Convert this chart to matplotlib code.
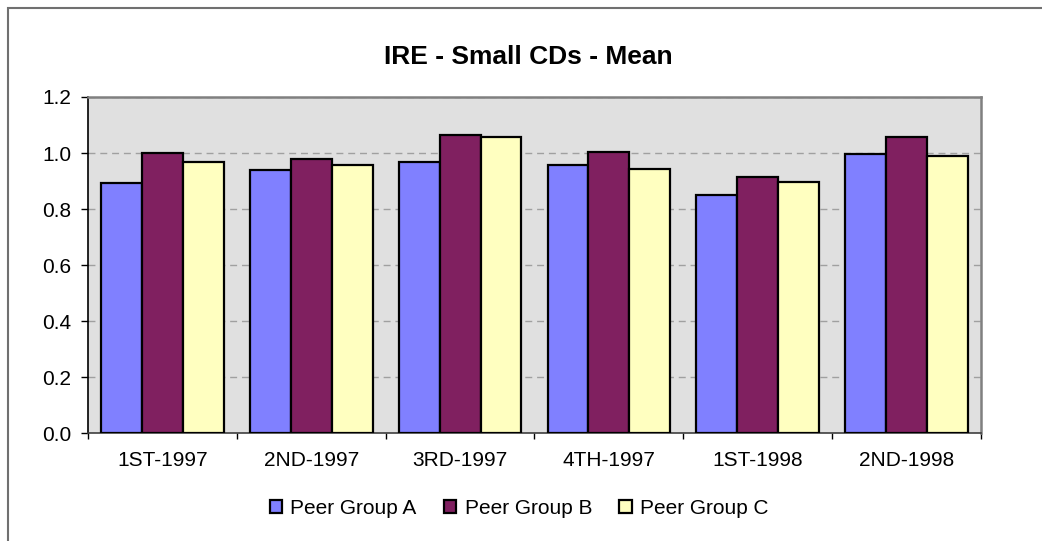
import matplotlib
matplotlib.use("Agg")
import matplotlib.pyplot as plt
import numpy as np
from matplotlib.patches import Rectangle, Patch

plt.rcParams['font.family'] = ['Liberation Sans', 'DejaVu Sans']

categories = ["1ST-1997", "2ND-1997", "3RD-1997", "4TH-1997", "1ST-1998", "2ND-1998"]
series_names = ["Peer Group A", "Peer Group B", "Peer Group C"]
group_a = [0.893, 0.939, 0.969, 0.958, 0.849, 0.995]
group_b = [1.000, 0.979, 1.063, 1.002, 0.914, 1.059]
group_c = [0.969, 0.958, 1.057, 0.943, 0.895, 0.991]
y_ticks = [0.0, 0.2, 0.4, 0.6, 0.8, 1.0, 1.2]

colors = ["#8080FF", "#802060", "#FFFFC0"]

W, H = 1042, 541
fig = plt.figure(figsize=(W / 100, H / 100), dpi=100)
fig.patch.set_facecolor("white")

# outer chart frame
fig.add_artist(Rectangle((8 / W, -0.1), 1.2, (H - 7.5) / H + 0.1,
                         transform=fig.transFigure, fill=False,
                         edgecolor="#707070", linewidth=1.5))

ax = fig.add_axes([88 / W, (H - 433.3) / H, (981 - 88) / W, (433.3 - 97) / H])
ax.set_facecolor("#E0E0E0")

x = np.arange(len(categories))
width = 0.275
for i, (vals, name) in enumerate(zip([group_a, group_b, group_c], series_names)):
    ax.bar(x + (i - 1) * width, vals, width, color=colors[i], edgecolor="black",
           linewidth=1.6, label=name, zorder=3)

ax.set_xlim(-0.5, len(categories) - 0.5)
ax.set_ylim(0, 1.2)
ax.set_yticks(y_ticks)
ax.set_yticklabels([f"{v:.1f}" for v in y_ticks], fontsize=15)
ax.yaxis.grid(True, color="#A0A0A0", linestyle=(0, (5, 3.5)), linewidth=1, zorder=1)
ax.set_axisbelow(True)

ax.set_xticks(x)
ax.set_xticklabels(categories, fontsize=15)
ax.set_xticks(np.arange(-0.5, len(categories), 1.0), minor=True)
ax.tick_params(axis="x", which="major", length=0, pad=13)
ax.tick_params(axis="x", which="minor", length=4.3, direction="out", color="black", width=1)
ax.tick_params(axis="y", length=5, direction="out", color="black", width=1, pad=7)

for side in ("top", "right"):
    ax.spines[side].set_color("#808080")
    ax.spines[side].set_linewidth(1.8)
ax.spines["left"].set_color("black")
ax.spines["left"].set_linewidth(1.2)
ax.spines["bottom"].set_color("#404040")
ax.spines["bottom"].set_linewidth(1.2)

fig.text(528 / W, (H - 56.5) / H, "IRE - Small CDs - Mean", ha="center", va="center",
         fontsize=19, fontweight="bold")

handles = [Patch(facecolor=c, edgecolor="black", linewidth=1.6) for c in colors]
fig.legend(handles, series_names, loc="center", bbox_to_anchor=(519 / W, (H - 508) / H),
           ncol=3, frameon=False, fontsize=15, handlelength=0.6, handleheight=0.6,
           handletextpad=0.4, columnspacing=1.3)

fig.savefig("out.png", dpi=100)
